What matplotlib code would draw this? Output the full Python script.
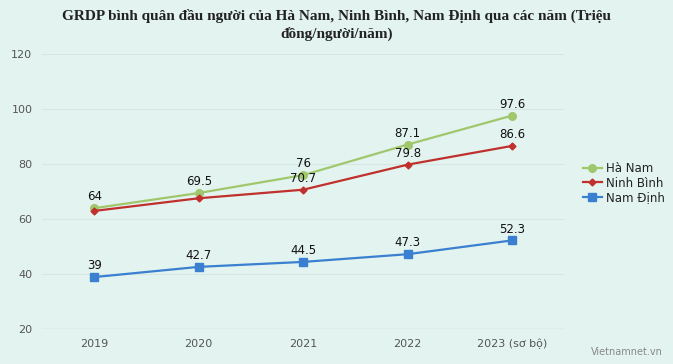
import matplotlib.pyplot as plt

# data
years = ['2019', '2020', '2021', '2022', '2023 (sơ bộ)']
ha_nam = [64, 69.5, 76, 87.1, 97.6]
ninh_binh = [63, 67.6, 70.7, 79.8, 86.6]
nam_dinh = [39, 42.7, 44.5, 47.3, 52.3]
# labels hidden in the original where they overlap
ninh_binh_show = [False, False, True, True, True]

bg = '#e3f4f0'
fig = plt.figure(figsize=(6.73, 3.64), dpi=100, facecolor=bg)
ax = fig.add_axes([0.0625, 0.095, 0.776, 0.757], facecolor=bg)

x = list(range(len(years)))
ax.plot(x, ha_nam, color='#a0c76c', marker='o', markersize=5.5, lw=1.6, label='Hà Nam')
ax.plot(x, ninh_binh, color='#c0302c', marker='D', markersize=3.5, lw=1.6, label='Ninh Bình')
ax.plot(x, nam_dinh, color='#3a7fd0', marker='s', markersize=5.5, lw=1.6, label='Nam Định')

def fmt(v):
    return str(int(v)) if v == int(v) else str(v)

def label_series(vals, show=None):
    for i, v in enumerate(vals):
        if show is not None and not show[i]:
            continue
        ax.annotate(fmt(v), (i, v), xytext=(0, 3.5), textcoords='offset points',
                    ha='center', va='bottom', fontsize=8.5, color='#111111')

label_series(ha_nam)
label_series(ninh_binh, ninh_binh_show)
label_series(nam_dinh)

ax.set_xlim(-0.5, len(years) - 0.5)
ax.set_ylim(20, 120)
ax.set_yticks([20, 40, 60, 80, 100, 120])
ax.set_xticks(x)
ax.set_xticklabels(years)
ax.tick_params(axis='both', length=0, labelsize=8, colors='#555555', pad=7)
ax.grid(axis='y', color='#d6e6e2', lw=0.8)
for s in ax.spines.values():
    s.set_visible(False)
ax.axhline(20, color='#c5d6d8', lw=1)

fig.suptitle('GRDP bình quân đầu người của Hà Nam, Ninh Bình, Nam Định qua các năm (Triệu\nđồng/người/năm)',
             x=0.5, y=0.975, fontsize=11, fontweight='bold', family='Liberation Serif',
             color='#222222', linespacing=1.35)

leg = fig.legend(loc='center left', bbox_to_anchor=(0.85, 0.497), frameon=False,
                 fontsize=8.5, handlelength=1.6, handletextpad=0.4, labelspacing=0.12)
for t in leg.get_texts():
    t.set_color('#222222')

fig.text(0.985, 0.02, 'Vietnamnet.vn', ha='right', va='bottom', fontsize=7, color='#888888')

fig.savefig('out.png', dpi=100, facecolor=bg)
